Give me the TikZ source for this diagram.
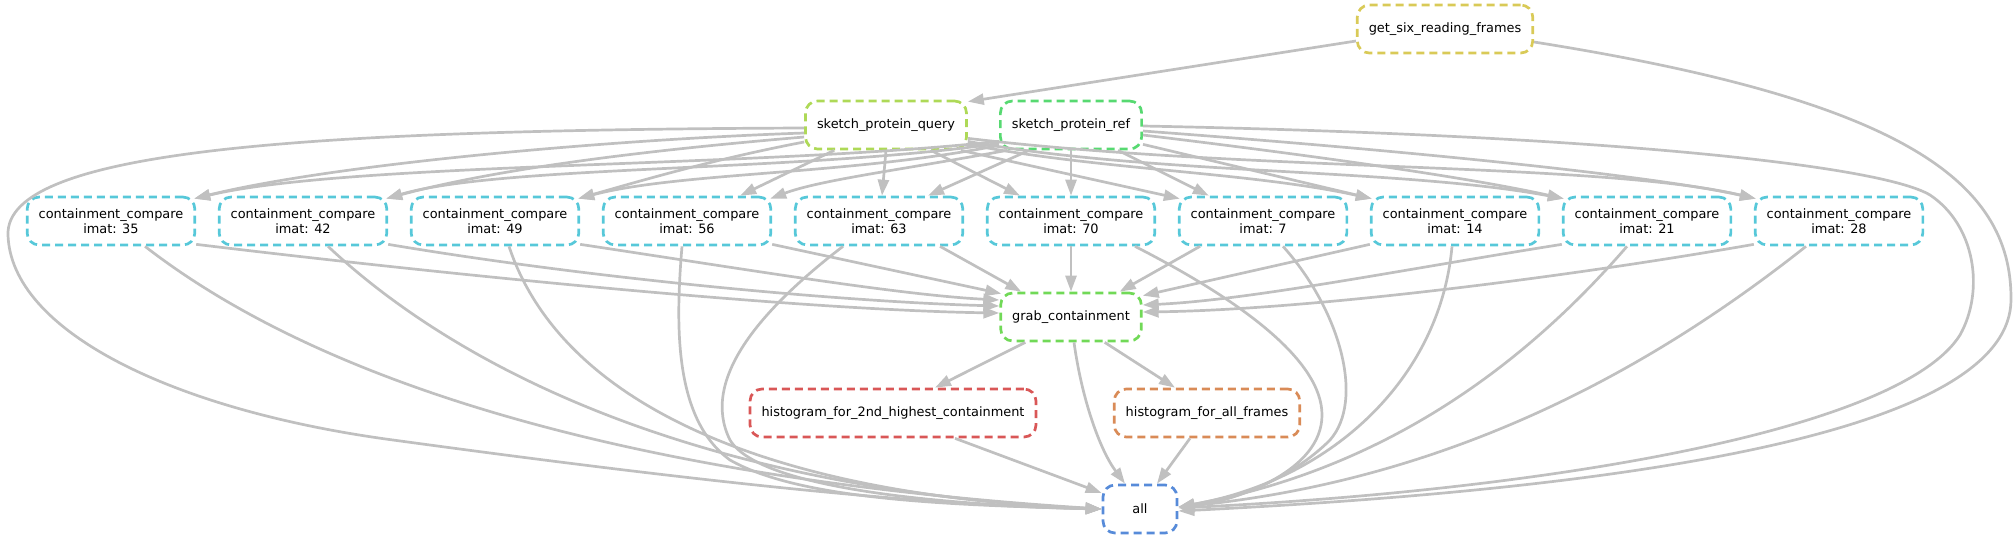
\documentclass[tikz,border=0pt]{standalone}
\usepackage{fontspec}
\setmainfont{DejaVu Sans}
\usetikzlibrary{arrows.meta}

\definecolor{edgegray}{RGB}{192,192,192}
\definecolor{sixcol}{RGB}{217,202,87}
\definecolor{querycol}{RGB}{174,217,87}
\definecolor{refcol}{RGB}{87,217,113}
\definecolor{cccol}{RGB}{87,200,217}
\definecolor{grabcol}{RGB}{113,217,87}
\definecolor{histtwocol}{RGB}{217,87,87}
\definecolor{histallcol}{RGB}{217,139,87}
\definecolor{allcol}{RGB}{87,139,217}

\tikzset{
  rulebox/.style={draw=#1, rounded corners=12pt, dash pattern=on 8pt off 5pt,
    line width=2.7pt, minimum height=48pt, inner xsep=11.5pt, align=center,
    font=\fontsize{12.9}{14.5}\selectfont},
  dep/.style={draw=edgegray, line width=2.7pt, -{Triangle[length=16pt,width=11pt]}}
}

\begin{document}
\begin{tikzpicture}[x=1pt,y=-1pt]
    \useasboundingbox (0,0) rectangle (2016,539);

    \node[rulebox=sixcol] (six) at (1445,29) {get\_six\_reading\_frames};
    \node[rulebox=querycol] (query) at (886,125) {sketch\_protein\_query};
    \node[rulebox=refcol] (ref) at (1071,125) {sketch\_protein\_ref};
    \foreach \n/\x in {35/111,42/303,49/495,56/687,63/879,70/1071,7/1263,14/1455,21/1647,28/1839}
        \node[rulebox=cccol] (cc\n) at (\x,221) {containment\_compare\\imat: \n};
    \node[rulebox=grabcol] (grab) at (1071,317) {grab\_containment};
    \node[rulebox=histtwocol] (hist2nd) at (893,413) {histogram\_for\_2nd\_highest\_containment};
    \node[rulebox=histallcol] (histall) at (1207,413) {histogram\_for\_all\_frames};
    \node[rulebox=allcol, minimum width=74pt] (all) at (1140,509) {all};

    % reading frames
    \draw[dep] ([yshift=-12pt]six.west) -- ([yshift=-2pt]query.north east);
    \draw[dep] ([yshift=-13pt]six.east) .. controls (1900,100) and (2012,180) .. (2011,300)
        .. controls (2010,420) and (1700,485) .. ([yshift=-2pt]all.east);

    % query sketches
    \draw[dep] ([yshift=-3pt]query.west) .. controls (300,130) and (5,150) .. (8,235)
        .. controls (11,330) and (170,410) .. (393,440)
        .. controls (650,475) and (900,505) .. (all.west);
    \draw[dep] ([yshift=-8pt]query.west) .. controls (600,140) and (330,165) .. ([xshift=-2pt,yshift=-3pt]cc35.north east);
    \draw[dep] ([yshift=-12pt]query.west) .. controls (650,150) and (500,168) .. ([xshift=-2pt,yshift=-3pt]cc42.north east);
    \draw[dep] ([yshift=-17pt]query.west) .. controls (720,158) and (650,178) .. ([xshift=-2pt,yshift=-3pt]cc49.north east);
    \draw[dep] ([xshift=30pt]query.south west) -- ([xshift=-32pt]cc56.north east);
    \draw[dep] (query.south) -- ([xshift=3pt]cc63.north);
    \draw[dep] ([xshift=-37pt]query.south east) -- ([xshift=-51pt]cc70.north);
    \draw[dep] ([xshift=-7pt]query.south east) -- ([xshift=2pt,yshift=-3pt]cc7.north west);
    \draw[dep] ([yshift=6pt]query.south east) .. controls (1100,170) and (1250,172) .. ([xshift=2pt,yshift=-3pt]cc14.north west);
    \draw[dep] ([yshift=9pt]query.south east) .. controls (1150,175) and (1400,168) .. ([xshift=2pt,yshift=-3pt]cc21.north west);
    \draw[dep] ([yshift=12pt]query.south east) .. controls (1250,172) and (1600,162) .. ([xshift=2pt,yshift=-3pt]cc28.north west);

    % ref sketches
    \draw[dep] ([yshift=9pt]ref.south west) .. controls (750,168) and (350,162) .. ([xshift=-2pt,yshift=-3pt]cc35.north east);
    \draw[dep] ([yshift=7pt]ref.south west) .. controls (800,172) and (500,165) .. ([xshift=-2pt,yshift=-3pt]cc42.north east);
    \draw[dep] ([yshift=5pt]ref.south west) .. controls (850,175) and (680,172) .. ([xshift=-2pt,yshift=-3pt]cc49.north east);
    \draw[dep] ([xshift=8pt]ref.south west) .. controls (900,170) and (820,180) .. ([xshift=-2pt,yshift=-3pt]cc56.north east);
    \draw[dep] ([xshift=30pt]ref.south west) -- ([xshift=49pt]cc63.north);
    \draw[dep] (ref.south) -- (cc70.north);
    \draw[dep] ([xshift=-25pt]ref.south east) -- ([xshift=31pt]cc7.north west);
    \draw[dep] ([yshift=6pt]ref.south east) -- ([xshift=2pt,yshift=-3pt]cc14.north west);
    \draw[dep] ([yshift=-10pt]ref.east) .. controls (1350,160) and (1480,180) .. ([xshift=2pt,yshift=-3pt]cc21.north west);
    \draw[dep] ([yshift=-6pt]ref.east) .. controls (1400,150) and (1650,175) .. ([xshift=2pt,yshift=-3pt]cc28.north west);
    \draw[dep] ([yshift=-1pt]ref.east) .. controls (1600,135) and (1880,165) .. (1930,195)
        .. controls (1975,225) and (1985,290) .. (1960,335)
        .. controls (1900,430) and (1550,490) .. ([yshift=1pt]all.east);

    % compare -> grab
    \draw[dep] ([yshift=2pt]cc35.south east) .. controls (450,275) and (800,310) .. ([yshift=4pt]grab.west);
    \draw[dep] ([yshift=2pt]cc42.south east) .. controls (600,280) and (850,302) .. ([yshift=11pt]grab.west);
    \draw[dep] ([yshift=2pt]cc49.south east) .. controls (750,270) and (900,295) .. ([yshift=17pt]grab.west);
    \draw[dep] ([yshift=2pt]cc56.south east) -- ([xshift=2pt,yshift=-2pt]grab.north west);
    \draw[dep] ([xshift=61pt]cc63.south) -- ([xshift=22pt]grab.north west);
    \draw[dep] (cc70.south) -- (grab.north);
    \draw[dep] ([xshift=-63pt]cc7.south) -- ([xshift=-23pt]grab.north east);
    \draw[dep] ([yshift=2pt]cc14.south west) -- ([yshift=-4pt]grab.north east);
    \draw[dep] ([yshift=2pt]cc21.south west) .. controls (1400,270) and (1250,300) .. ([yshift=12pt]grab.east);
    \draw[dep] ([yshift=2pt]cc28.south west) .. controls (1550,280) and (1300,310) .. ([yshift=5pt]grab.east);

    % compare -> all
    \draw[dep] ([xshift=34pt]cc35.south) .. controls (330,390) and (650,480) .. (all.west);
    \draw[dep] ([xshift=25pt]cc42.south) .. controls (460,370) and (700,490) .. (all.west);
    \draw[dep] ([xshift=14pt]cc49.south) .. controls (560,400) and (760,495) .. (all.west);
    \draw[dep] ([xshift=-5pt]cc56.south) .. controls (675,330) and (675,420) .. (730,460)
        .. controls (800,500) and (950,505) .. (all.west);
    \draw[dep] ([xshift=-36pt]cc63.south) .. controls (760,310) and (700,380) .. (730,440)
        .. controls (760,490) and (950,505) .. (all.west);
    \draw[dep] ([xshift=64pt]cc70.south) .. controls (1240,300) and (1322,360) .. (1322,415)
        .. controls (1322,470) and (1240,500) .. ([yshift=2pt]all.east);
    \draw[dep] ([xshift=20pt]cc7.south) .. controls (1340,310) and (1365,400) .. (1330,440)
        .. controls (1290,480) and (1230,502) .. ([yshift=2pt]all.east);
    \draw[dep] ([xshift=-3pt]cc14.south) .. controls (1440,380) and (1330,480) .. ([yshift=2pt]all.east);
    \draw[dep] ([xshift=-20pt]cc21.south) .. controls (1520,370) and (1380,470) .. ([yshift=2pt]all.east);
    \draw[dep] ([xshift=-33pt]cc28.south) .. controls (1650,370) and (1450,480) .. ([yshift=2pt]all.east);

    % histograms
    \draw[dep] ([xshift=26pt]grab.south west) -- ([xshift=42pt]hist2nd.north);
    \draw[dep] ([xshift=-38pt]grab.south east) -- ([xshift=-32pt]histall.north);
    \draw[dep] ([xshift=3pt]grab.south) .. controls (1082,400) and (1100,450) .. ([xshift=-15pt]all.north);
    \draw[dep] ([xshift=62pt]hist2nd.south) -- ([yshift=16pt]all.west);
    \draw[dep] ([xshift=-17pt]histall.south) -- ([xshift=17pt]all.north);
\end{tikzpicture}
\end{document}
